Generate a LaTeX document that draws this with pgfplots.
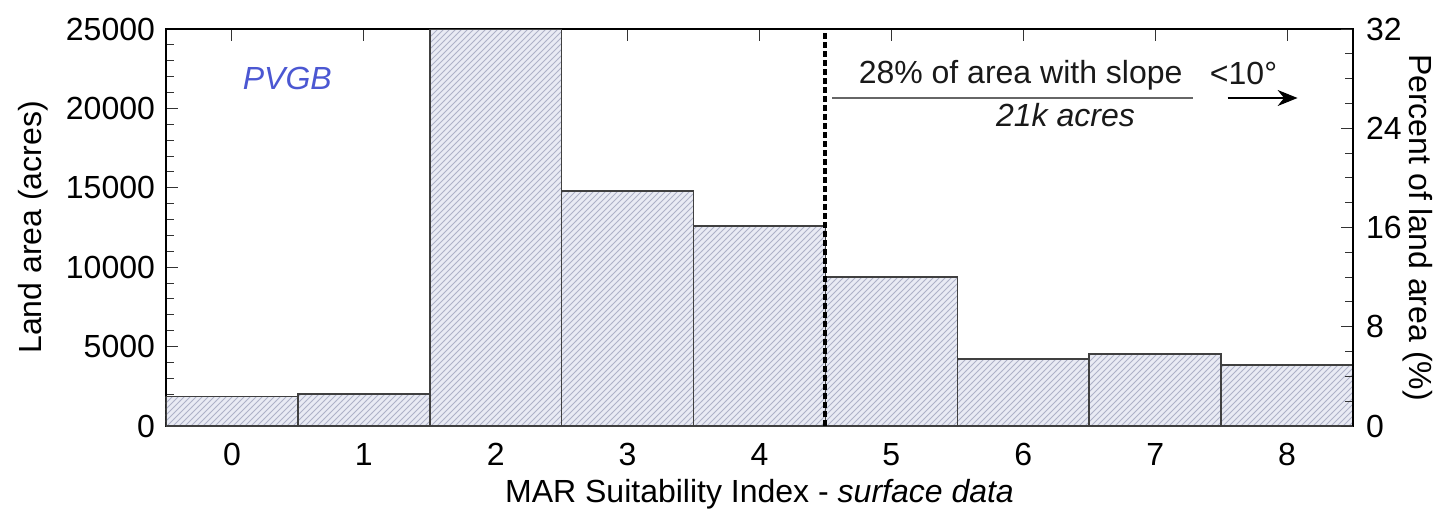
\documentclass[border=0pt]{standalone}
\usepackage{pgfplots}
\pgfplotsset{compat=1.18}
\usepackage{fontspec}
\setmainfont{Liberation Sans}
\usetikzlibrary{patterns,arrows.meta}
\definecolor{barfill}{HTML}{E9EBF4}
\definecolor{hatch}{HTML}{AEB2C8}
\definecolor{pvgb}{HTML}{4B57D2}
\begin{document}
\fontsize{16}{19}\selectfont
\begin{tikzpicture}
\useasboundingbox (0,0) rectangle (724pt,257.5pt);
\begin{axis}[
  at={(83pt,44.5pt)}, anchor=south west,
  scale only axis, width=593.5pt, height=198.5pt,
  xmin=-0.5, xmax=8.5, ymin=0, ymax=25000,
  xtick={0,1,2,3,4,5,6,7,8},
  ytick={0,5000,10000,15000,20000,25000},
  minor y tick num=4,
  ytick pos=left,
  tick align=inside,
  major tick length=6pt, minor tick length=4pt,
  every tick/.style={black!80, line width=0.5pt},
  scaled y ticks=false,
  /pgf/number format/assume math mode=true,
  /pgf/number format/1000 sep={},
  tick label style={font=\fontsize{16}{19}\selectfont},
  xticklabel style={yshift=-3pt},
  label style={font=\fontsize{16}{19}\selectfont},
  xlabel={MAR Suitability Index - \textit{surface data}},
  ylabel={Land area (acres)},
  xlabel style={yshift=4pt},
  ylabel style={yshift=-2pt},
  axis line style={line width=0.9pt},
  clip=true,
]
\addplot[ybar interval, draw=black!75, line width=0.8pt, fill=barfill,
  postaction={pattern=north east lines, pattern color=hatch}]
  coordinates {(-0.5,1850) (0.5,2030) (1.5,25000) (2.5,14800) (3.5,12600) (4.5,9380) (5.5,4220) (6.5,4530) (7.5,3840) (8.5,3840)};
\addplot[black, line width=2pt, dash pattern=on 3pt off 1.5pt] coordinates {(4.5,0) (4.5,25000)};
\node[pvgb, font=\fontsize{16}{19}\selectfont\itshape] at (axis cs:0.42,21900) {PVGB};
\node[black!90, font=\fontsize{16}{19}\selectfont] at (axis cs:5.98,22100) {28\% of area with slope};
\draw[black!60, line width=0.6pt] (axis cs:4.55,20655) -- (axis cs:7.29,20655);
\node[black!90, font=\fontsize{16}{19}\selectfont\itshape] at (axis cs:6.32,19550) {21k acres};
\node[black!90, font=\fontsize{16}{19}\selectfont] at (axis cs:7.67,22200) {<10°};
\draw[-{Stealth[length=10pt,width=8pt]}, black, line width=0.6pt] (axis cs:7.55,20655) -- (axis cs:8.08,20655);
\end{axis}
\begin{axis}[
  at={(83pt,44.5pt)}, anchor=south west,
  scale only axis, width=593.5pt, height=198.5pt,
  xmin=-0.5, xmax=8.5, ymin=0, ymax=32,
  axis x line=none,
  axis y line*=right,
  ytick={0,8,16,24,32},
  minor y tick num=3,
  tick align=inside,
  major tick length=6pt, minor tick length=4pt,
  every tick/.style={black!80, line width=0.5pt},
  /pgf/number format/assume math mode=true,
  tick label style={font=\fontsize{16}{19}\selectfont},
  yticklabel style={xshift=1pt},
  label style={font=\fontsize{16}{19}\selectfont},
  ylabel={Percent of land area (\%)},
  ylabel style={at={(axis description cs:1.0545,0.5)}, anchor=center, rotate=180},
  axis line style={line width=0.9pt},
]
\addplot[draw=none] coordinates {(0,0)};
\end{axis}
\end{tikzpicture}
\end{document}
